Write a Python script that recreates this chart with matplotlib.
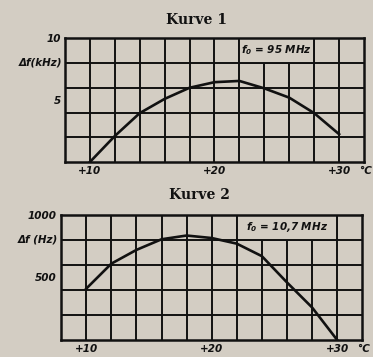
import matplotlib
matplotlib.use("Agg")
import matplotlib.pyplot as plt
from matplotlib.patches import Rectangle

# data
temp1 = [10, 12, 14, 16, 18, 20, 22, 24, 26, 28, 30]
df1 = [0, 2.1, 3.95, 5.1, 6.0, 6.45, 6.55, 5.95, 5.2, 3.95, 2.25]

temp2 = [10, 12, 14, 16, 18, 20, 22, 24, 26, 28, 30]
df2 = [410, 610, 720, 805, 835, 815, 770, 670, 460, 260, 0]

xticks = [10, 20, 30]
xticklabels = ["+10", "+20", "+30"]

bg = "#d3cdc3"
ink = "#111111"

plt.rcParams["mathtext.fontset"] = "custom"
plt.rcParams["mathtext.it"] = "DejaVu Sans:bold:italic"
plt.rcParams["mathtext.rm"] = "DejaVu Sans:bold:italic"

fig = plt.figure(figsize=(3.73, 3.57), dpi=100, facecolor=bg)

lab = dict(fontsize=7.5, fontweight="bold", fontstyle="italic", color=ink)


def panel(rect, x, y, ymax, ystep, yticks, ylab, note, box_x):
    ax = fig.add_axes(rect)
    ax.set_facecolor(bg)
    ax.set_xlim(8, 32)
    ax.set_ylim(0, ymax)
    # grid every 2 deg / one fifth of the range
    for gx in range(10, 32, 2):
        ax.axvline(gx, color=ink, lw=1.4, zorder=1)
    for gy in range(1, 5):
        ax.axhline(gy * ystep, color=ink, lw=1.4, zorder=1)
    for s in ax.spines.values():
        s.set_linewidth(1.8)
        s.set_color(ink)
    # label box in the top row
    ax.add_patch(Rectangle((box_x[0], 4 * ystep), box_x[1] - box_x[0], ystep,
                           facecolor=bg, edgecolor=ink, lw=1.4, zorder=2))
    ax.text(sum(box_x) / 2, 4.5 * ystep, note, ha="center", va="center",
            zorder=3, **lab)
    ax.plot(x, y, color=ink, lw=1.9, zorder=4)
    ax.set_xticks(xticks)
    ax.set_xticklabels(xticklabels, **lab)
    ax.set_yticks(yticks)
    ax.set_yticklabels([str(v) for v in yticks], **lab)
    ax.tick_params(length=0, pad=3)
    ax.annotate("°C", xy=(32.1, 0), xycoords=("data", "axes fraction"),
                xytext=(0, -3), textcoords="offset points",
                ha="center", va="top", **lab)
    ax.text(-0.01, 4 * ystep / ymax, ylab, transform=ax.transAxes,
            ha="right", va="center", **lab)
    return ax


panel([0.174, 0.546, 0.802, 0.347], temp1, df1, 10, 2, [5, 10],
      "Δf(kHz)", r"$f_0$ = 95 MHz", (22, 28))
panel([0.164, 0.048, 0.807, 0.350], temp2, df2, 1000, 200, [500, 1000],
      "Δf (Hz)", r"$f_0$ = 10,7 MHz", (22, 30))

fig.text(0.528, 0.944, "Kurve 1", ha="center", va="center",
         fontsize=10, fontweight="bold", family="DejaVu Serif", color=ink)
fig.text(0.534, 0.454, "Kurve 2", ha="center", va="center",
         fontsize=10, fontweight="bold", family="DejaVu Serif", color=ink)

fig.savefig("out.png", dpi=100, facecolor=bg)
